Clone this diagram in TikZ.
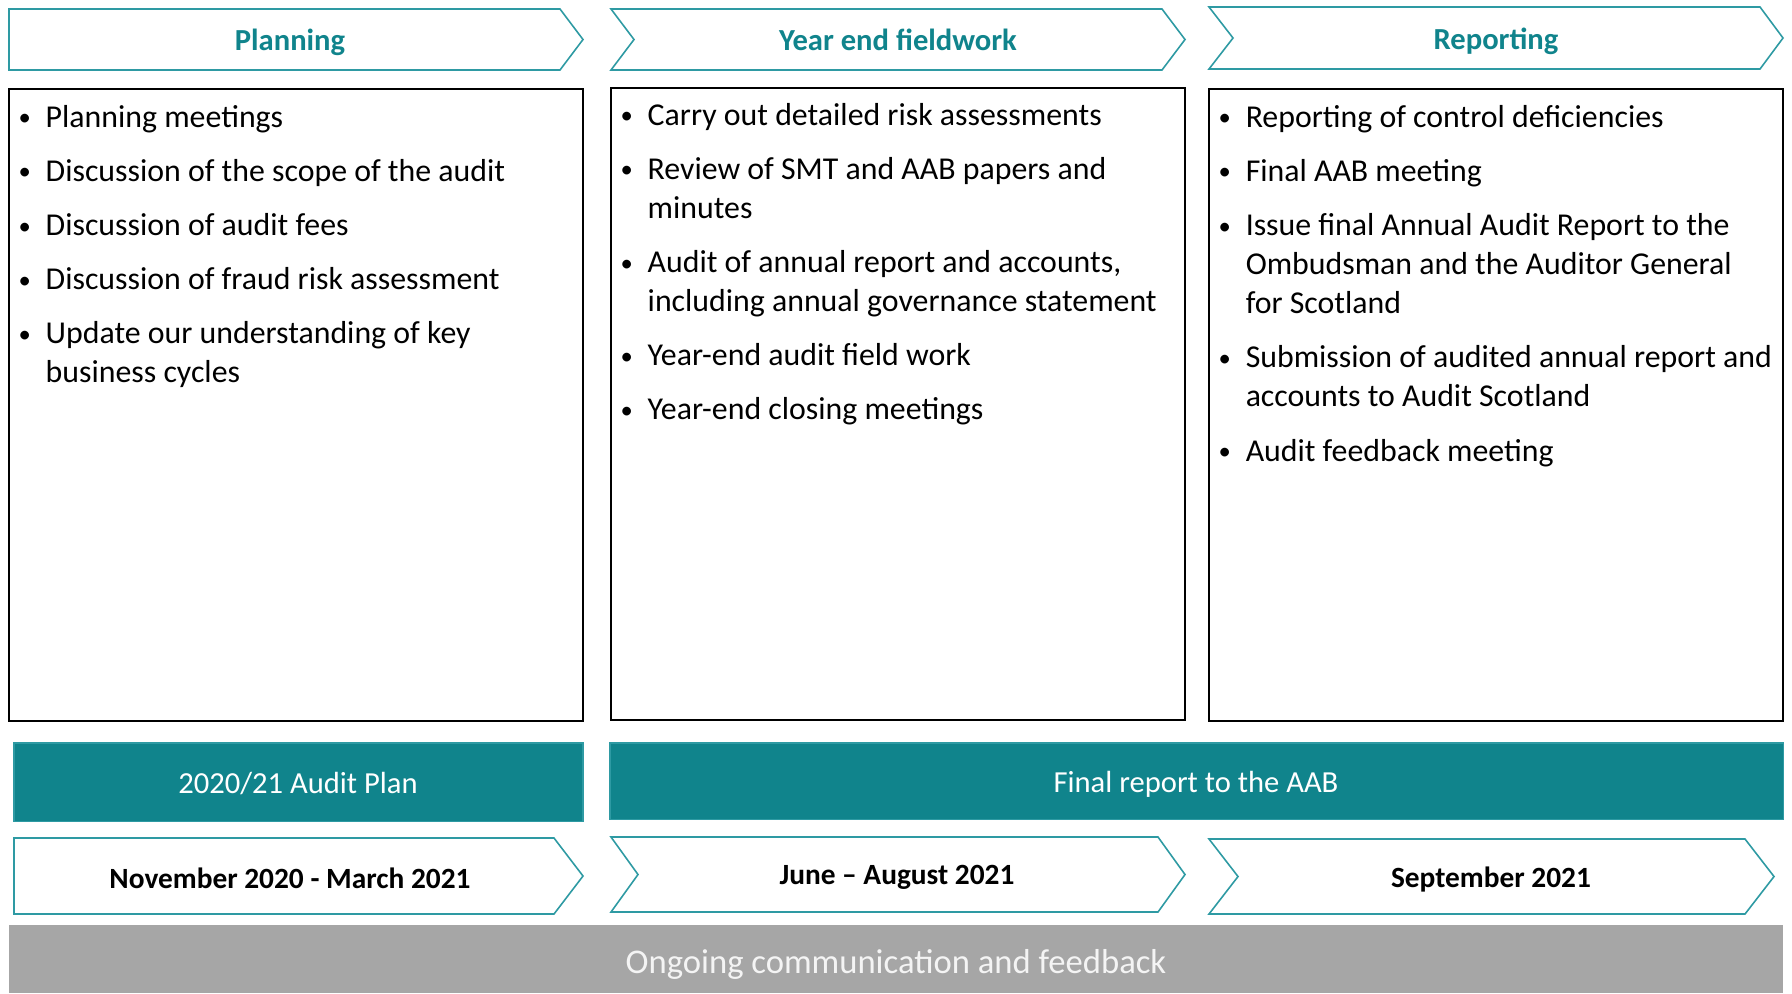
\documentclass[tikz,border=0pt]{standalone}
\usepackage{fontspec}
\setmainfont{Carlito}
\usepackage{tikz}

\definecolor{auditteal}{HTML}{10848C}
\definecolor{chevedge}{HTML}{2E9AA3}
\definecolor{bargray}{HTML}{A6A6A6}
\definecolor{bartextgray}{HTML}{F4F4F4}

% Bullet list used inside the three phase boxes
\newcommand{\listdot}{\makebox[0.16cm]{\raisebox{0.12ex}{\fontsize{7}{7}\selectfont\textbullet}}}
\newenvironment{auditlist}{%
  \spaceskip=0pt \xspaceskip=0pt
  \begin{list}{\listdot}{%
    \setlength{\leftmargin}{0.36cm}%
    \setlength{\labelwidth}{0.16cm}%
    \setlength{\labelsep}{0.13cm}%
    \setlength{\itemsep}{0.15cm}%
    \setlength{\parsep}{0pt}%
    \setlength{\topsep}{0pt}%
    \setlength{\partopsep}{0pt}}}%
  {\end{list}}

% Chevron outline: left, right, top, bottom, point depth, notch depth
\newcommand{\phasearrow}[6]{%
  \draw[chevline] (#1,#3) -- ({#2-#5},#3) -- (#2,{(#3+#4)/2})
    -- ({#2-#5},#4) -- (#1,#4) -- ({#1+#6},{(#3+#4)/2}) -- cycle;}

\tikzset{
  chevline/.style={draw=chevedge, line width=0.45pt, fill=white},
  listbox/.style={draw=black, line width=0.6pt},
  tealbar/.style={fill=auditteal, draw=chevedge, line width=0.3pt},
  phasetitle/.style={text=auditteal, font=\fontsize{8.7}{10}\selectfont\bfseries},
  datetext/.style={font=\fontsize{8.35}{10}\selectfont\bfseries},
  bartext/.style={text=white, font=\fontsize{8.7}{10}\selectfont},
  listtext/.style={anchor=north west, inner sep=0pt, text width=7cm,
    font=\fontsize{9.05}{11.1}\selectfont}
}

\begin{document}
\begin{tikzpicture}[x=0.01cm, y=-0.01cm]
  \useasboundingbox (0,0) rectangle (1792,993);

  % Phase headers
  \phasearrow{9}{583}{9}{70}{23}{0}
  \phasearrow{611}{1185}{9}{70}{23}{23}
  \phasearrow{1209}{1783}{7}{69}{23}{24}
  \node[phasetitle] (plan) at (290,42) {Planning};
  \node[phasetitle] (field) at (898,40) {Year end fieldwork};
  \node[phasetitle] (report) at (1496,41) {Reporting};

  % Task boxes
  \draw[listbox] (9,89) rectangle (583,721);
  \draw[listbox] (611,88) rectangle (1185,720);
  \draw[listbox] (1209,89) rectangle (1783,721);

  \node[listtext] (planlist) at (9,88) {%
    \begin{auditlist}
      \item Planning meetings
      \item Discussion of the scope of the audit
      \item Discussion of audit fees
      \item Discussion of fraud risk assessment
      \item Update our understanding of key\newline business cycles
    \end{auditlist}};

  \node[listtext] (fieldlist) at (611,86) {%
    \begin{auditlist}
      \item Carry out detailed risk assessments
      \item Review of SMT and AAB papers and\newline minutes
      \item Audit of annual report and accounts,\newline including annual governance statement
      \item Year-end audit field work
      \item Year-end closing meetings
    \end{auditlist}};

  \node[listtext] (reportlist) at (1209,88) {%
    \begin{auditlist}
      \item Reporting of control deficiencies
      \item Final AAB meeting
      \item Issue final Annual Audit Report to the\newline Ombudsman and the Auditor General\newline for Scotland
      \item Submission of audited annual report and\newline accounts to Audit Scotland
      \item Audit feedback meeting
    \end{auditlist}};

  % Deliverables
  \draw[tealbar] (14,743) rectangle (583,821);
  \draw[tealbar] (610,743) rectangle (1783,819);
  \node[bartext] (auditplan) at (298,784) {2020/21 Audit Plan};
  \node[bartext] (finalrep) at (1196,784) {Final report to the AAB};

  % Timing
  \phasearrow{14}{583}{838}{914}{29}{0}
  \phasearrow{611}{1185}{837}{912}{27}{27}
  \phasearrow{1209}{1774}{839}{914}{29}{29}
  \node[datetext] (plandate) at (290,878) {November 2020 - March 2021};
  \node[datetext] (fielddate) at (897,877) {June -- August 2021};
  \node[datetext] (reportdate) at (1491,879) {September 2021};

  % Ongoing communication band
  \fill[bargray] (9,925) rectangle (1783,993);
  \node[text=bartextgray, font=\fontsize{9.85}{12}\selectfont] (ongoing) at (896,964)
    {Ongoing communication and feedback};
\end{tikzpicture}
\end{document}
